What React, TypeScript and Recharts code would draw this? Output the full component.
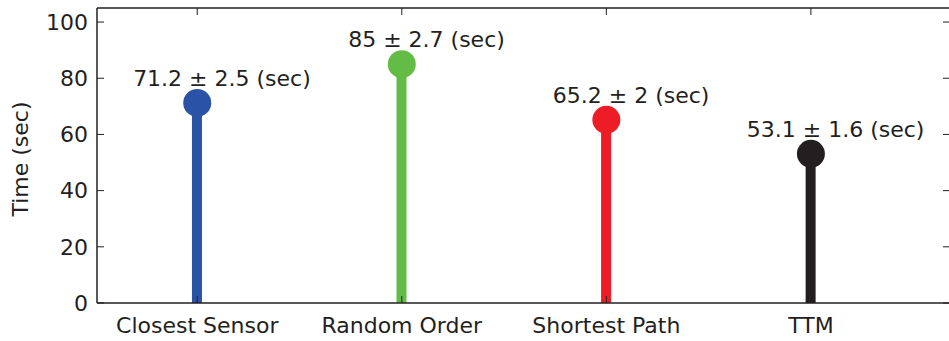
import { Bar, Cell, ComposedChart, LabelList, Scatter, XAxis, YAxis } from 'recharts';

const categories = ['Closest Sensor', 'Random Order', 'Shortest Path', 'TTM'];
const positions = [1, 2, 3, 4];
const meanTimes = [71.2, 85, 65.2, 53.1];
const stdTimes = [2.5, 2.7, 2, 1.6];
const colors = ['#2b53a5', '#62bc46', '#ee1c25', '#231f20'];
const yTicks = [0, 20, 40, 60, 80, 100];

const data = positions.map((x, i) => ({
  x,
  time: meanTimes[i],
  label: `${meanTimes[i]} ± ${stdTimes[i]} (sec)`,
}));

const ink = '#231f20';
const font = 'DejaVu Sans, sans-serif';
const axisLine = { stroke: ink, strokeWidth: 1.5 };
const TICK = 7;

// MATLAB-style inward ticks: tickSize is 0, the short mark is drawn by the tick itself
function LeftTick(props: any) {
  const { x, y, payload } = props;
  return (
    <g>
      <line x1={x + 9} x2={x + 9 + TICK} y1={y} y2={y} stroke={ink} strokeWidth={1} />
      <text x={x} y={y} dy="0.355em" textAnchor="end" fill={ink} fontSize={22} fontFamily={font}>
        {payload.value}
      </text>
    </g>
  );
}

function RightTick(props: any) {
  const { x, y } = props;
  return <line x1={x - 2} x2={x - 2 - TICK} y1={y} y2={y} stroke={ink} strokeWidth={1} />;
}

function BottomTick(props: any) {
  const { x, y, payload } = props;
  return (
    <g>
      <line x1={x} x2={x} y1={y - 14} y2={y - 14 - TICK} stroke={ink} strokeWidth={1} />
      <text x={x} y={y} dy="0.71em" textAnchor="middle" fill={ink} fontSize={22} fontFamily={font}>
        {categories[payload.value - 1]}
      </text>
    </g>
  );
}

function TopTick(props: any) {
  const { x, y } = props;
  return <line x1={x} x2={x} y1={y + 2} y2={y + 2 + TICK} stroke={ink} strokeWidth={1} />;
}

function ValueLabel(props: any) {
  const { x, y, width, index } = props;
  return (
    <text
      x={x + width / 2 + 25}
      y={y - 17}
      textAnchor="middle"
      fill={ink}
      fontSize={22}
      fontFamily={font}
    >
      {data[index].label}
    </text>
  );
}

export default function App() {
  return (
    <div style={{ position: 'absolute', left: 0, top: 0, width: 949, height: 341, overflow: 'hidden', background: '#fff' }}>
      <ComposedChart width={951} height={341} data={data} margin={{ top: 0, right: 0, bottom: 0, left: 0 }}>
        <XAxis
          dataKey="x"
          type="number"
          domain={[0.51, 4.68]}
          ticks={positions}
          allowDataOverflow
          tick={<BottomTick />}
          tickSize={0}
          tickMargin={14}
          axisLine={axisLine}
          tickLine={false}
          height={38}
        />
        <XAxis
          xAxisId="top"
          orientation="top"
          dataKey="x"
          type="number"
          domain={[0.51, 4.68]}
          ticks={positions}
          allowDataOverflow
          tick={<TopTick />}
          tickSize={0}
          tickMargin={2}
          axisLine={axisLine}
          tickLine={false}
          height={8}
        />
        <YAxis
          type="number"
          domain={[0, 105]}
          ticks={yTicks}
          allowDataOverflow
          tick={<LeftTick />}
          tickSize={0}
          tickMargin={9}
          axisLine={axisLine}
          tickLine={false}
          width={97}
          label={{
            content: () => (
              <text
                x={28}
                y={159}
                transform="rotate(-90 28 159)"
                textAnchor="middle"
                fill={ink}
                fontSize={22}
                fontFamily={font}
              >
                Time (sec)
              </text>
            ),
          }}
        />
        <YAxis
          yAxisId="right"
          orientation="right"
          type="number"
          domain={[0, 105]}
          ticks={yTicks}
          allowDataOverflow
          tick={<RightTick />}
          tickSize={0}
          tickMargin={2}
          axisLine={axisLine}
          tickLine={false}
          width={1}
        />
        <Bar dataKey="time" barSize={10} isAnimationActive={false}>
          {data.map((_, i) => (
            <Cell key={i} fill={colors[i]} />
          ))}
          <LabelList dataKey="label" content={ValueLabel} />
        </Bar>
        <Scatter
          dataKey="time"
          xAxisId="top"
          yAxisId="right"
          isAnimationActive={false}
          shape={(p: any) => <circle cx={p.cx} cy={p.cy} r={14} fill={colors[p.index]} />}
        />
      </ComposedChart>
    </div>
  );
}
